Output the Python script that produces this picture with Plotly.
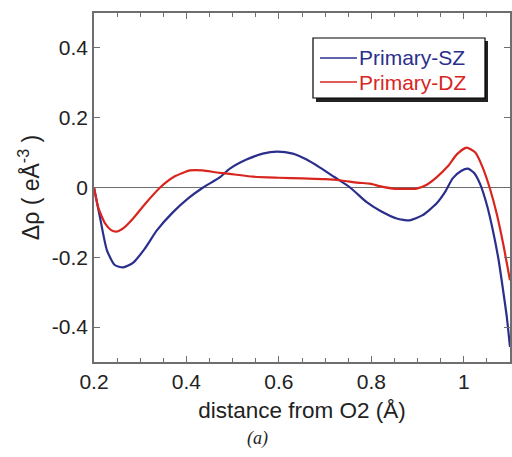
import plotly.graph_objects as go

# Primary-SZ (blue)
sz_x = [0.200, 0.213, 0.228, 0.245, 0.263, 0.285, 0.310, 0.336, 0.370, 0.405, 0.436, 0.472, 0.494,
        0.530, 0.565, 0.596, 0.630, 0.660, 0.689, 0.720, 0.754, 0.790, 0.818, 0.855, 0.883,
        0.910, 0.941, 0.960, 0.976, 0.995, 1.009, 1.022, 1.035, 1.050, 1.063, 1.075, 1.085, 1.093, 1.100]
sz_y = [0.000, -0.086, -0.180, -0.222, -0.229, -0.215, -0.175, -0.123, -0.072, -0.030, 0.000, 0.029, 0.054,
        0.080, 0.097, 0.103, 0.097, 0.080, 0.057, 0.030, 0.000, -0.042, -0.066, -0.089, -0.094,
        -0.080, -0.046, -0.012, 0.026, 0.048, 0.054, 0.042, 0.011, -0.050, -0.123, -0.205, -0.294, -0.370, -0.457]

# Primary-DZ (red)
dz_x = [0.200, 0.209, 0.224, 0.237, 0.250, 0.265, 0.285, 0.310, 0.343, 0.375, 0.408, 0.435, 0.466,
        0.488, 0.544, 0.600, 0.652, 0.700, 0.736, 0.770, 0.797, 0.818, 0.847, 0.875, 0.898,
        0.920, 0.941, 0.965, 0.985, 1.006, 1.025, 1.041, 1.057, 1.071, 1.085, 1.100]
dz_y = [0.000, -0.057, -0.103, -0.122, -0.126, -0.115, -0.088, -0.048, 0.000, 0.032, 0.049, 0.049, 0.043,
        0.040, 0.031, 0.028, 0.026, 0.024, 0.020, 0.014, 0.011, 0.004, -0.003, -0.004, -0.003,
        0.008, 0.029, 0.060, 0.095, 0.114, 0.100, 0.057, -0.005, -0.074, -0.160, -0.266]

x_ticks = [0.2, 0.4, 0.6, 0.8, 1.0]
x_ticktext = ["0.2", "0.4", "0.6", "0.8", "1"]
y_ticks = [-0.4, -0.2, 0, 0.2, 0.4]
y_ticktext = ["-0.4", "-0.2", "0", "0.2", "0.4"]
series_names = ["Primary-SZ", "Primary-DZ"]

BLUE = "#2b2f8c"
RED = "#d8261e"
AXIS = "#6e6e6e"
FONT = "Liberation Sans, Arial, sans-serif"

W, H = 512, 457
ML, MR, MT, MB = 94, 2, 13, 95
PW, PH = W - ML - MR, H - MT - MB


def px(xp):
    return (xp - ML) / PW


def py(yp):
    return 1 - (yp - MT) / PH


fig = go.Figure()
fig.add_trace(go.Scatter(x=sz_x, y=sz_y, mode="lines", name=series_names[0], showlegend=False,
                         line=dict(color=BLUE, width=2.2, shape="spline", smoothing=0.6)))
fig.add_trace(go.Scatter(x=dz_x, y=dz_y, mode="lines", name=series_names[1], showlegend=False,
                         line=dict(color=RED, width=2.2, shape="spline", smoothing=0.6)))

# legend box drawn by hand (with drop shadow) to match the reference
shapes = [
    dict(type="rect", xref="paper", yref="paper", x0=px(316), x1=px(488), y0=py(102), y1=py(41),
         fillcolor="#222", line=dict(width=0), layer="above"),
    dict(type="rect", xref="paper", yref="paper", x0=px(313), x1=px(485), y0=py(98), y1=py(38),
         fillcolor="white", line=dict(color="black", width=1.2), layer="above"),
]
annotations = []
for i, (name, col) in enumerate(zip(series_names, [BLUE, RED])):
    yc = 58 + i * 24
    shapes.append(dict(type="line", xref="paper", yref="paper", x0=px(320), x1=px(357),
                       y0=py(yc), y1=py(yc), line=dict(color=col, width=1.5), layer="above"))
    annotations.append(dict(text=name, xref="paper", yref="paper", x=px(357), y=py(yc),
                            xanchor="left", yanchor="middle", showarrow=False,
                            font=dict(size=21, color=col, family=FONT)))

annotations.append(dict(text="<i>(a)</i>", xref="paper", yref="paper", x=px(257), y=py(438),
                        xanchor="center", yanchor="middle", showarrow=False,
                        font=dict(family="Liberation Serif, Times New Roman, serif", size=18, color="#222")))

fig.update_layout(
    width=W, height=H,
    margin=dict(l=ML, r=MR, t=MT, b=MB),
    paper_bgcolor="white", plot_bgcolor="white",
    font=dict(family=FONT, size=21, color="#222"),
    showlegend=False,
    xaxis=dict(range=[0.2, 1.1], tickvals=x_ticks, ticktext=x_ticktext,
               ticks="inside", ticklen=6, tickcolor=AXIS, tickwidth=1,
               showline=True, linecolor=AXIS, linewidth=1.5, mirror="ticks",
               showgrid=False, zeroline=False, automargin=False,
               minor=dict(dtick=0.05, tick0=0.2, ticks="inside", ticklen=4, tickcolor=AXIS),
               title=dict(text="distance from O2 (Å)", font=dict(size=22.5), standoff=10),
               tickfont=dict(size=21)),
    yaxis=dict(range=[-0.5, 0.5], tickvals=y_ticks, ticktext=y_ticktext,
               ticks="inside", ticklen=6, tickcolor=AXIS, tickwidth=1,
               showline=True, linecolor=AXIS, linewidth=1.5, mirror="ticks",
               showgrid=False, zeroline=True, zerolinecolor=AXIS, zerolinewidth=1,
               automargin=False,
               title=dict(text="Δρ ( eÅ<sup>-3</sup> )", font=dict(size=23), standoff=6),
               tickfont=dict(size=21)),
    shapes=shapes,
    annotations=annotations,
)

fig.write_html("out.html", config={"displayModeBar": False},
               post_script="document.body.style.margin='0';document.body.style.overflow='hidden';")
